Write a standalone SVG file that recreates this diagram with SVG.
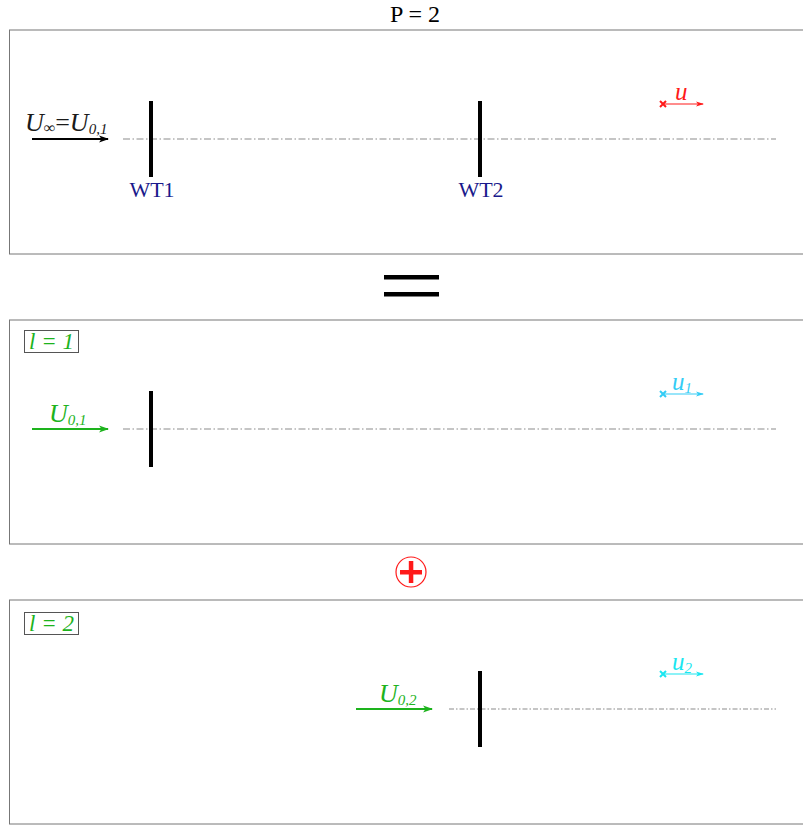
<svg xmlns="http://www.w3.org/2000/svg" width="803" height="825" viewBox="0 0 803 825">
<defs>
<style>
.frame{fill:#fff;stroke:#777;stroke-width:1}
.cl{stroke:#8c8c8c;stroke-width:1.2;stroke-dasharray:7,2.5,1.5,2.5;fill:none}
.cl2{stroke:#8c8c8c;stroke-width:1.2;stroke-dasharray:5,2,1.5,2;fill:none}
.wt{stroke:#000;stroke-width:4;fill:none}
.math{font-family:"Liberation Serif","DejaVu Serif",serif;font-style:italic}
.lab{font-family:"Liberation Serif","DejaVu Serif",serif;font-size:22px;fill:#1a1a8c;text-anchor:middle}
.green{fill:#1db31d}
</style>
<marker id="ak" markerWidth="10" markerHeight="8" refX="9" refY="4" orient="auto" markerUnits="userSpaceOnUse"><path d="M0,0.5 L10,4 L0,7.5 L2.5,4 Z" fill="#000"/></marker>
<marker id="ag" markerWidth="10" markerHeight="8" refX="9" refY="4" orient="auto" markerUnits="userSpaceOnUse"><path d="M0,0.5 L10,4 L0,7.5 L2.5,4 Z" fill="#1db31d"/></marker>
<marker id="ar" markerWidth="8" markerHeight="6" refX="7" refY="3" orient="auto" markerUnits="userSpaceOnUse"><path d="M0,0.5 L8,3 L0,5.5 L2,3 Z" fill="#ff1a1a"/></marker>
<marker id="ac1" markerWidth="8" markerHeight="6" refX="7" refY="3" orient="auto" markerUnits="userSpaceOnUse"><path d="M0,0.5 L8,3 L0,5.5 L2,3 Z" fill="#33ccf5"/></marker>
<marker id="ac2" markerWidth="8" markerHeight="6" refX="7" refY="3" orient="auto" markerUnits="userSpaceOnUse"><path d="M0,0.5 L8,3 L0,5.5 L2,3 Z" fill="#1ae6f0"/></marker>
</defs>
<rect width="803" height="825" fill="#fff"/>
<text x="415" y="22" font-family="Liberation Serif, DejaVu Serif, serif" font-size="24" text-anchor="middle" fill="#000">P = 2</text>

<g id="panel1">
<rect class="frame" x="9.5" y="30" width="800" height="224"/>
</g>
<g id="panel2">
<rect class="frame" x="9.5" y="320" width="800" height="224"/>
</g>
<g id="panel3">
<rect class="frame" x="9.5" y="600" width="800" height="224"/>
</g>

<g id="connectors">
<line class="cl" x1="123" y1="139" x2="776" y2="139"/>
<line class="cl" x1="123" y1="429" x2="776" y2="429"/>
<line class="cl2" x1="449" y1="709" x2="776" y2="709"/>
<line x1="32" y1="139" x2="108" y2="139" stroke="#000" stroke-width="1.8" marker-end="url(#ak)"/>
<line x1="32" y1="429" x2="108" y2="429" stroke="#1db31d" stroke-width="1.8" marker-end="url(#ag)"/>
<line x1="356" y1="709" x2="432" y2="709" stroke="#1db31d" stroke-width="1.8" marker-end="url(#ag)"/>
<line x1="663" y1="104" x2="703" y2="104" stroke="#ff1a1a" stroke-width="1.2" marker-end="url(#ar)"/>
<line x1="663" y1="394" x2="703" y2="394" stroke="#33ccf5" stroke-width="1.2" marker-end="url(#ac1)"/>
<line x1="663" y1="674" x2="703" y2="674" stroke="#1ae6f0" stroke-width="1.2" marker-end="url(#ac2)"/>
</g>

<g id="WT1">
<line class="wt" x1="151" y1="101" x2="151" y2="177"/>
<text class="lab" x="152" y="197">WT1</text>
</g>
<g id="WT2">
<line class="wt" x1="480" y1="101" x2="480" y2="177"/>
<text class="lab" x="481" y="197">WT2</text>
</g>
<g id="Uinf">
<text class="math" x="25" y="131" font-size="26" fill="#1a1a1a">U<tspan font-size="16" dy="2">∞</tspan><tspan dy="-2" font-style="normal">=</tspan>U<tspan font-size="15" dy="3">0,1</tspan></text>
</g>
<g id="u">
<path d="M660,101 L666,107 M666,101 L660,107" stroke="#ff1a1a" stroke-width="2"/>
<text class="math" x="675" y="100" font-size="25" fill="#ff1a1a">u</text>
</g>

<g id="equals">
<rect x="384" y="275" width="55" height="4.5" fill="#000"/>
<rect x="384" y="292" width="55" height="4.5" fill="#000"/>
</g>

<g id="l1">
<rect x="24.5" y="330.5" width="54" height="22" fill="#fff" stroke="#555" stroke-width="1"/>
<text class="math green" x="51.5" y="349" font-size="23" text-anchor="middle">l = 1</text>
</g>
<g id="U01">
<text class="math green" x="49" y="422" font-size="26">U<tspan font-size="15" dy="3">0,1</tspan></text>
</g>
<g id="WT1_l1">
<line class="wt" x1="151" y1="391" x2="151" y2="467"/>
</g>
<g id="u1">
<path d="M660,391 L666,397 M666,391 L660,397" stroke="#33ccf5" stroke-width="2"/>
<text class="math" x="672" y="390" font-size="25" fill="#33ccf5">u<tspan font-size="15" dy="3">1</tspan></text>
</g>

<g id="plus">
<circle cx="411" cy="572" r="15" fill="none" stroke="#ff1a1a" stroke-width="1.2"/>
<rect x="400" y="570" width="22" height="4.5" fill="#ff1a1a"/>
<rect x="408.8" y="561" width="4.5" height="22" fill="#ff1a1a"/>
</g>

<g id="l2">
<rect x="24.5" y="612.5" width="54" height="22" fill="#fff" stroke="#555" stroke-width="1"/>
<text class="math green" x="51.5" y="631" font-size="23" text-anchor="middle">l = 2</text>
</g>
<g id="U02">
<text class="math green" x="379" y="702" font-size="26">U<tspan font-size="15" dy="3">0,2</tspan></text>
</g>
<g id="WT2_l2">
<line class="wt" x1="480" y1="671" x2="480" y2="747"/>
</g>
<g id="u2">
<path d="M660,671 L666,677 M666,671 L660,677" stroke="#1ae6f0" stroke-width="2"/>
<text class="math" x="672" y="670" font-size="25" fill="#1ae6f0">u<tspan font-size="15" dy="3">2</tspan></text>
</g>
</svg>
